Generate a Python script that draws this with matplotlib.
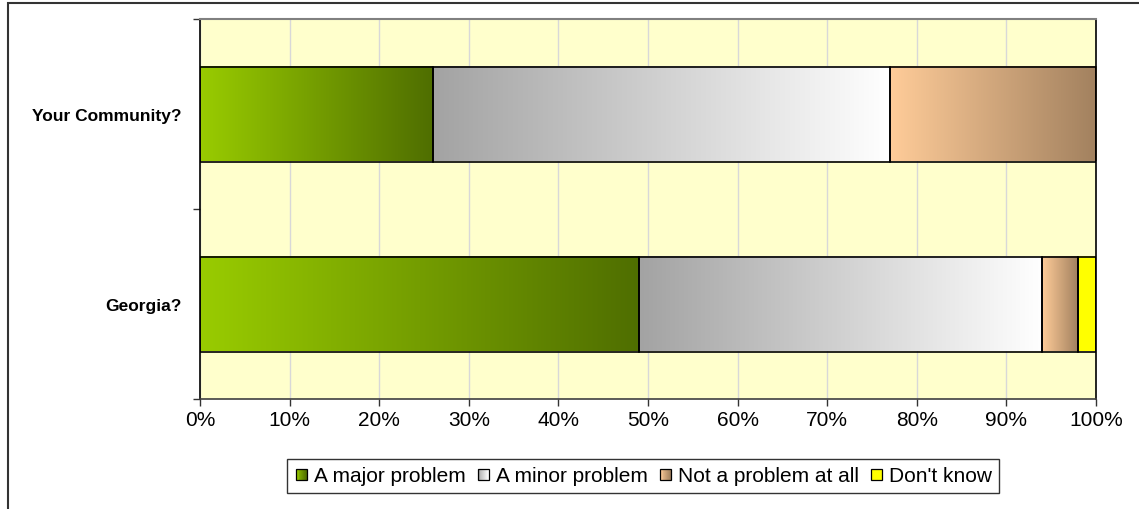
import numpy as np
import matplotlib
matplotlib.use("Agg")
import matplotlib.pyplot as plt
from matplotlib.patches import Rectangle
from matplotlib.colors import LinearSegmentedColormap
from matplotlib.legend_handler import HandlerBase

plt.rcParams['font.family'] = ['Liberation Sans', 'DejaVu Sans']

# Survey responses (percent of respondents)
categories = ["Georgia?", "Your Community?"]
series_names = ["A major problem", "A minor problem", "Not a problem at all", "Don't know"]
major = [49, 26]
minor = [45, 51]
not_problem = [4, 23]
dont_know = [2, 0]
x_ticks = [0, 10, 20, 30, 40, 50, 60, 70, 80, 90, 100]
x_tick_labels = [f"{t}%" for t in x_ticks]

# Gradient colour stops per series (left -> right)
gradients = [
    ("#99CC00", "#4F6E00"),
    ("#A3A3A3", "#FFFFFF"),
    ("#FFCC99", "#A2815F"),
    ("#FFFF00", "#FFFF00"),
]

W, H = 1139, 510
fig = plt.figure(figsize=(W / 100, H / 100), dpi=100)
fig.patch.set_facecolor("white")

# outer chart frame
fig.patches.append(Rectangle((8 / W, -0.05), 1.2, 1 - 4 / H + 0.05,
                             transform=fig.transFigure, fill=False,
                             edgecolor="#333333", linewidth=1.5, zorder=0))

ax = fig.add_axes([200 / W, 1 - 400 / H, 896 / W, 380 / H])
ax.set_facecolor("#FFFFCC")

bar_h = 0.5
series = [major, minor, not_problem, dont_know]
ypos = np.arange(len(categories)) + 0.5
grad = np.linspace(0, 1, 256).reshape(1, -1)

for i, y in enumerate(ypos):
    left = 0.0
    for s, vals in enumerate(series):
        w = vals[i]
        if w <= 0:
            continue
        cmap = LinearSegmentedColormap.from_list(f"g{s}", gradients[s])
        ax.imshow(grad, cmap=cmap, aspect="auto", interpolation="bilinear",
                  extent=[left, left + w, y - bar_h / 2, y + bar_h / 2], zorder=2)
        ax.add_patch(Rectangle((left, y - bar_h / 2), w, bar_h, fill=False,
                               edgecolor="black", linewidth=1.2, zorder=3))
        left += w

ax.set_xlim(0, 100)
ax.set_ylim(0, len(categories))
ax.set_aspect("auto")

ax.set_xticks(x_ticks)
ax.set_xticklabels(x_tick_labels, fontsize=15)
ax.xaxis.grid(True, color="#D8D8D8", linewidth=1, zorder=1)
ax.set_axisbelow(True)

ax.set_yticks(np.arange(len(categories) + 1))
ax.set_yticklabels([])
ax.set_yticks(ypos, minor=True)
ax.set_yticklabels(categories, minor=True, fontsize=12.5, fontweight="bold")
ax.tick_params(axis="y", which="minor", length=0, pad=13)
ax.tick_params(axis="both", which="major", direction="out", length=5,
               color="#333333", width=1)
ax.tick_params(axis="x", pad=3)

for side in ["left", "right"]:
    ax.spines[side].set_color("black")
    ax.spines[side].set_linewidth(1.2)
ax.spines["top"].set_color("#808080")
ax.spines["top"].set_linewidth(1.5)
ax.spines["bottom"].set_color("#404040")
ax.spines["bottom"].set_linewidth(1.2)


class GradientHandler(HandlerBase):
    def __init__(self, colors):
        super().__init__()
        self.colors = colors

    def create_artists(self, legend, orig_handle, xdescent, ydescent, width,
                       height, fontsize, trans):
        cmap = LinearSegmentedColormap.from_list("h", self.colors)
        size = min(width, height) * 0.75
        x0 = xdescent * -1 + (width - size) / 2
        y0 = -ydescent + (height - size) / 2
        n = 12
        arts = []
        for k in range(n):
            arts.append(Rectangle((x0 + size * k / n, y0), size / n + 0.2, size,
                                  facecolor=cmap(k / (n - 1)), edgecolor="none",
                                  transform=trans))
        arts.append(Rectangle((x0, y0), size, size, fill=False,
                              edgecolor="black", linewidth=0.9, transform=trans))
        return arts


handles = [Rectangle((0, 0), 1, 1) for _ in series_names]
handler_map = {h: GradientHandler(gradients[i]) for i, h in enumerate(handles)}
leg = fig.legend(handles, series_names, handler_map=handler_map,
                 loc="center", bbox_to_anchor=(643 / W, 1 - 477 / H),
                 ncol=4, fontsize=15, frameon=True, fancybox=False,
                 edgecolor="black", handlelength=0.7, handleheight=0.7,
                 handletextpad=0.25, columnspacing=0.5, borderpad=0.35)
leg.get_frame().set_linewidth(1.0)

fig.savefig("out.png", dpi=100)
